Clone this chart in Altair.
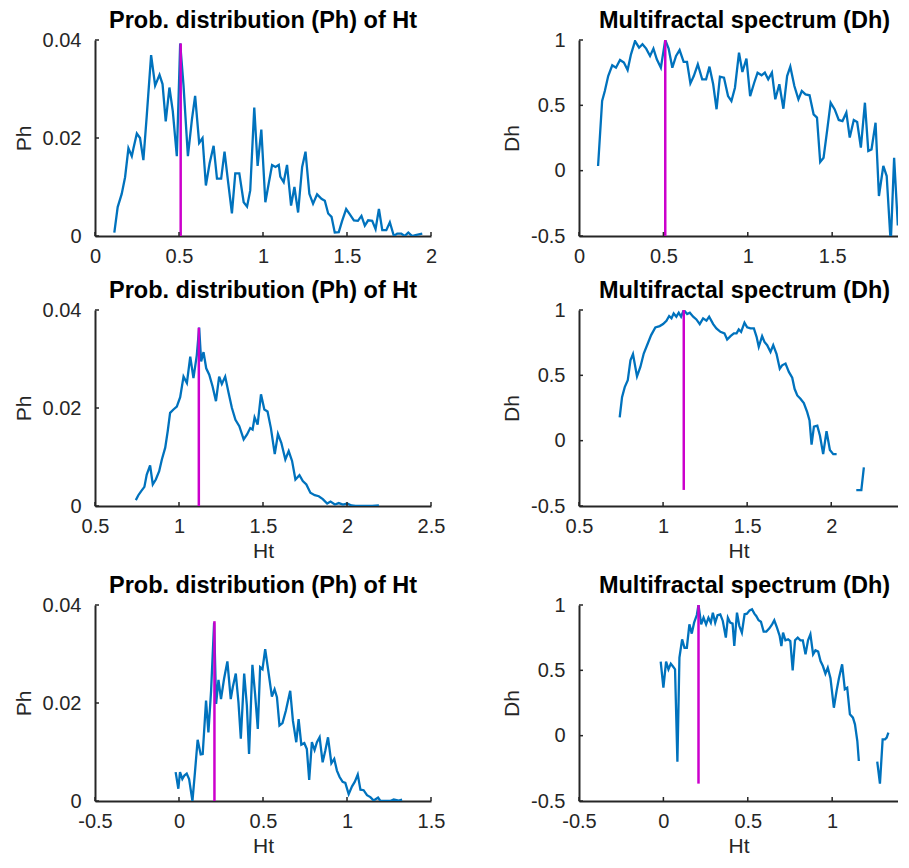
import altair as alt
import pandas as pd

BLUE = "#0072BD"
MAG = "#CC00CC"
AXC = "#262626"
FONT = "Liberation Sans"

# ---------------- Row 1 ----------------
P1L_HT = [0.115, 0.135, 0.159, 0.179, 0.199, 0.219, 0.229, 0.249, 0.268, 0.288, 0.308, 0.334, 0.358,
          0.384, 0.402, 0.421, 0.443, 0.463, 0.487, 0.507, 0.527, 0.553, 0.577, 0.596, 0.620, 0.640,
          0.660, 0.682, 0.706, 0.726, 0.751, 0.771, 0.791, 0.815, 0.835, 0.859, 0.885, 0.905, 0.924,
          0.948, 0.968, 0.990, 1.014, 1.034, 1.054, 1.074, 1.094, 1.103, 1.123, 1.143, 1.167, 1.187,
          1.209, 1.233, 1.253, 1.276, 1.298, 1.322, 1.348, 1.368, 1.388, 1.408, 1.427, 1.451, 1.471,
          1.495, 1.515, 1.541, 1.565, 1.586, 1.606, 1.626, 1.650, 1.670, 1.690, 1.710, 1.734, 1.755,
          1.779, 1.799, 1.823, 1.843, 1.865, 1.888, 1.908, 1.948]
P1L_PH = [0.0007, 0.0059, 0.0086, 0.0120, 0.0179, 0.0163, 0.0179, 0.0209, 0.0200, 0.0155, 0.0245,
          0.0369, 0.0307, 0.0329, 0.0310, 0.0234, 0.0303, 0.0255, 0.0163, 0.0393, 0.0307, 0.0163,
          0.0238, 0.0286, 0.0190, 0.0200, 0.0103, 0.0148, 0.0184, 0.0117, 0.0117, 0.0172, 0.0114,
          0.0046, 0.0128, 0.0128, 0.0069, 0.0060, 0.0093, 0.0262, 0.0143, 0.0217, 0.0069, 0.0107,
          0.0145, 0.0141, 0.0145, 0.0121, 0.0110, 0.0145, 0.0062, 0.0100, 0.0048, 0.0141, 0.0172,
          0.0086, 0.0066, 0.0085, 0.0076, 0.0072, 0.0046, 0.0039, 0.0007, 0.0008, 0.0031, 0.0055,
          0.0045, 0.0032, 0.0031, 0.0041, 0.0021, 0.0032, 0.0031, 0.0014, 0.0055, 0.0012, 0.0012,
          0.0028, 0.0000, 0.0005, 0.0005, 0.0000, 0.0007, 0.0000, 0.0002, 0.0005]

P1R_HT = [0.113, 0.137, 0.153, 0.173, 0.197, 0.219, 0.243, 0.266, 0.288, 0.308, 0.332, 0.356, 0.376,
          0.398, 0.421, 0.441, 0.461, 0.485, 0.511, 0.531, 0.553, 0.575, 0.596, 0.620, 0.640, 0.660,
          0.680, 0.704, 0.730, 0.753, 0.773, 0.795, 0.815, 0.835, 0.859, 0.883, 0.903, 0.924, 0.948,
          0.968, 0.992, 1.014, 1.038, 1.058, 1.082, 1.101, 1.121, 1.143, 1.163, 1.187, 1.211, 1.233,
          1.252, 1.276, 1.300, 1.320, 1.342, 1.366, 1.390, 1.410, 1.429, 1.449, 1.471, 1.491, 1.515,
          1.539, 1.561, 1.584, 1.604, 1.628, 1.648, 1.670, 1.694, 1.714, 1.733, 1.757, 1.777, 1.803,
          1.823, 1.847, 1.867, 1.889]
P1R_DH = [0.036, 0.533, 0.610, 0.724, 0.806, 0.788, 0.847, 0.827, 0.770, 0.890, 0.992, 0.941, 0.967,
          0.934, 0.878, 0.934, 0.852, 0.788, 1.000, 0.934, 0.788, 0.878, 0.923, 0.832, 0.832, 0.668,
          0.724, 0.814, 0.699, 0.699, 0.796, 0.661, 0.470, 0.719, 0.712, 0.571, 0.533, 0.635, 0.903,
          0.755, 0.857, 0.571, 0.673, 0.750, 0.730, 0.750, 0.699, 0.750, 0.546, 0.661, 0.474, 0.724,
          0.796, 0.648, 0.546, 0.610, 0.584, 0.577, 0.431, 0.406, 0.066, 0.099, 0.316, 0.520, 0.469,
          0.388, 0.380, 0.444, 0.253, 0.388, 0.372, 0.176, 0.520, 0.151, 0.163, 0.367, -0.194, 0.036,
          -0.041, -0.560, 0.099, -0.420]

# ---------------- Row 2 ----------------
P2L_HT = [0.743, 0.758, 0.774, 0.794, 0.808, 0.828, 0.844, 0.862, 0.882, 0.898, 0.918, 0.933, 0.947,
          0.967, 0.987, 1.007, 1.027, 1.047, 1.067, 1.086, 1.106, 1.120, 1.132, 1.146, 1.162, 1.180,
          1.200, 1.220, 1.239, 1.255, 1.275, 1.295, 1.315, 1.336, 1.359, 1.385, 1.405, 1.424, 1.438,
          1.450, 1.468, 1.488, 1.508, 1.527, 1.547, 1.570, 1.589, 1.609, 1.633, 1.653, 1.673, 1.693,
          1.717, 1.737, 1.758, 1.782, 1.808, 1.832, 1.856, 1.882, 1.902, 1.928, 1.951, 1.976, 2.001,
          2.027, 2.051, 2.071, 2.110, 2.150, 2.190]
P2L_PH = [0.0012, 0.0022, 0.0030, 0.0039, 0.0064, 0.0083, 0.0044, 0.0054, 0.0071, 0.0095, 0.0119,
          0.0153, 0.0190, 0.0197, 0.0203, 0.0222, 0.0264, 0.0251, 0.0305, 0.0261, 0.0308, 0.0364,
          0.0295, 0.0314, 0.0281, 0.0268, 0.0244, 0.0214, 0.0264, 0.0249, 0.0264, 0.0231, 0.0200,
          0.0176, 0.0163, 0.0136, 0.0146, 0.0159, 0.0156, 0.0181, 0.0166, 0.0228, 0.0197, 0.0193,
          0.0159, 0.0106, 0.0147, 0.0129, 0.0095, 0.0112, 0.0092, 0.0054, 0.0063, 0.0051, 0.0044,
          0.0027, 0.0022, 0.0020, 0.0014, 0.0005, 0.0009, 0.0003, 0.0006, 0.0003, 0.0005, 0.0001,
          0.0000, 0.0000, 0.0000, 0.0000, 0.0001]

P2R_HT = [0.742, 0.756, 0.772, 0.790, 0.806, 0.821, 0.845, 0.865, 0.885, 0.909, 0.929, 0.954, 0.980,
          1.000, 1.020, 1.036, 1.050, 1.063, 1.079, 1.093, 1.107, 1.123, 1.143, 1.159, 1.179, 1.198,
          1.218, 1.238, 1.258, 1.274, 1.298, 1.317, 1.341, 1.365, 1.381, 1.401, 1.421, 1.437, 1.450,
          1.464, 1.484, 1.500, 1.520, 1.540, 1.556, 1.569, 1.589, 1.603, 1.619, 1.639, 1.655, 1.675,
          1.694, 1.708, 1.728, 1.748, 1.768, 1.782, 1.798, 1.817, 1.837, 1.857, 1.871, 1.883, 1.897,
          1.917, 1.933, 1.952, 1.972, 1.992, 2.012, 2.032, 2.090, 2.149, 2.179, 2.194]
P2R_DH = [0.179, 0.333, 0.410, 0.462, 0.615, 0.662, 0.492, 0.564, 0.667, 0.744, 0.808, 0.867, 0.877,
          0.892, 0.918, 0.954, 0.936, 0.974, 0.949, 0.979, 0.949, 1.000, 0.969, 0.979, 0.949, 0.928,
          0.892, 0.936, 0.918, 0.949, 0.892, 0.859, 0.833, 0.821, 0.774, 0.800, 0.821, 0.821, 0.851,
          0.833, 0.903, 0.867, 0.859, 0.859, 0.795, 0.718, 0.800, 0.756, 0.731, 0.679, 0.731, 0.662,
          0.551, 0.577, 0.590, 0.526, 0.482, 0.397, 0.346, 0.321, 0.287, 0.218, 0.154, -0.031, 0.108,
          0.115, 0.038, -0.103, 0.072, -0.072, -0.103, -0.103, None, -0.379, -0.379, -0.205]

# ---------------- Row 3 ----------------
P3L_HT = [-0.020, -0.004, 0.006, 0.020, 0.032, 0.046, 0.060, 0.080, 0.095, 0.111, 0.129, 0.141,
          0.161, 0.175, 0.191, 0.209, 0.221, 0.235, 0.250, 0.268, 0.288, 0.308, 0.320, 0.338, 0.354,
          0.368, 0.388, 0.404, 0.417, 0.437, 0.453, 0.469, 0.483, 0.497, 0.513, 0.533, 0.553, 0.569,
          0.583, 0.598, 0.616, 0.636, 0.662, 0.678, 0.698, 0.712, 0.728, 0.746, 0.761, 0.775, 0.791,
          0.807, 0.821, 0.837, 0.855, 0.871, 0.887, 0.907, 0.924, 0.940, 0.956, 0.974, 0.990, 1.010,
          1.030, 1.046, 1.064, 1.080, 1.099, 1.119, 1.139, 1.159, 1.185, 1.199, 1.229, 1.258, 1.278,
          1.308, 1.328]
P3L_PH = [0.0059, 0.0025, 0.0059, 0.0045, 0.0052, 0.0056, 0.0045, 0.0000, 0.0059, 0.0125, 0.0095,
          0.0096, 0.0205, 0.0140, 0.0225, 0.0364, 0.0198, 0.0247, 0.0208, 0.0249, 0.0285, 0.0208,
          0.0232, 0.0260, 0.0201, 0.0127, 0.0260, 0.0195, 0.0096, 0.0278, 0.0218, 0.0147, 0.0273,
          0.0269, 0.0310, 0.0262, 0.0213, 0.0228, 0.0212, 0.0154, 0.0159, 0.0184, 0.0225, 0.0164,
          0.0120, 0.0167, 0.0115, 0.0118, 0.0106, 0.0043, 0.0120, 0.0104, 0.0120, 0.0130, 0.0079,
          0.0103, 0.0130, 0.0077, 0.0086, 0.0062, 0.0049, 0.0039, 0.0037, 0.0014, 0.0030, 0.0039,
          0.0054, 0.0023, 0.0022, 0.0012, 0.0008, 0.0001, 0.0007, 0.0000, 0.0000, 0.0000, 0.0003,
          0.0001, 0.0003]

P3R_HT = [-0.016, 0.000, 0.016, 0.030, 0.044, 0.059, 0.069, 0.083, 0.095, 0.111, 0.125, 0.139,
          0.154, 0.168, 0.182, 0.198, 0.208, 0.224, 0.238, 0.253, 0.267, 0.281, 0.293, 0.307, 0.321,
          0.337, 0.352, 0.370, 0.382, 0.396, 0.410, 0.420, 0.436, 0.450, 0.465, 0.481, 0.495, 0.511,
          0.525, 0.539, 0.550, 0.564, 0.578, 0.594, 0.610, 0.628, 0.644, 0.657, 0.673, 0.689, 0.699,
          0.709, 0.723, 0.739, 0.752, 0.766, 0.780, 0.796, 0.812, 0.826, 0.842, 0.857, 0.871, 0.887,
          0.901, 0.917, 0.931, 0.945, 0.960, 0.974, 0.990, 1.010, 1.026, 1.040, 1.059, 1.075, 1.089,
          1.105, 1.123, 1.135, 1.149, 1.158, 1.210, 1.267, 1.283, 1.299, 1.313, 1.323, 1.333]
P3R_DH = [0.566, 0.367, 0.566, 0.508, 0.551, 0.526, 0.508, -0.199, 0.597, 0.737, 0.673, 0.673,
          0.852, 0.781, 0.865, 0.923, 1.000, 0.852, 0.903, 0.852, 0.903, 0.865, 0.941, 0.865, 0.923,
          0.929, 0.878, 0.750, 0.903, 0.865, 0.858, 0.686, 0.941, 0.839, 0.788, 0.929, 0.934, 0.959,
          0.967, 0.934, 0.916, 0.883, 0.872, 0.796, 0.796, 0.821, 0.852, 0.883, 0.827, 0.763, 0.686,
          0.788, 0.730, 0.737, 0.724, 0.500, 0.730, 0.750, 0.730, 0.730, 0.622, 0.730, 0.776, 0.622,
          0.653, 0.643, 0.571, 0.533, 0.474, 0.520, 0.439, 0.214, 0.342, 0.439, 0.546, 0.355, 0.367,
          0.163, 0.138, 0.087, -0.041, -0.194, None, -0.199, -0.367, -0.028, -0.028, -0.015, 0.023]

# Vertical markers (position of max, span)
VLINE_X = [0.51, 0.511, 1.118, 1.123, 0.211, 0.208]
VLINE_Y0 = [0.0, -0.5, 0.0, -0.377, 0.0, -0.367]
VLINE_Y1 = [0.0393, 1.0, 0.0364, 1.0, 0.0367, 1.0]

XDOMS = [[0, 2], [0, 1.89], [0.5, 2.5], [0.5, 2.397], [-0.5, 1.5], [-0.5, 1.39]]
XTICKS = [[0, 0.5, 1, 1.5, 2], [0, 0.5, 1, 1.5], [0.5, 1, 1.5, 2, 2.5], [0.5, 1, 1.5, 2],
          [-0.5, 0, 0.5, 1, 1.5], [-0.5, 0, 0.5, 1]]
PH_TICKS = [0, 0.02, 0.04]
DH_TICKS = [-0.5, 0, 0.5, 1]

TITLE_L = "Prob. distribution (Ph) of Ht"
TITLE_R = "Multifractal spectrum (Dh)"

WL, WR, H = 336, 319, 196


def panel(xs, ys, i, left, xtitle):
    rows = []
    seg = 0
    for x, y in zip(xs, ys):
        if y is None:
            seg += 1
            continue
        rows.append({"x": x, "y": y, "seg": seg})
    df = pd.DataFrame(rows)
    w = WL if left else WR
    ydom = [0, 0.04] if left else [-0.5, 1]
    yticks = PH_TICKS if left else DH_TICKS
    xs_ = alt.Scale(domain=XDOMS[i], nice=False, zero=False)
    ys_ = alt.Scale(domain=ydom, nice=False, zero=False)
    xaxis = alt.Axis(values=XTICKS[i], title=xtitle, labelExpr="'' + datum.value")
    yaxis = alt.Axis(values=yticks, title="Ph" if left else "Dh", labelExpr="'' + datum.value")
    X = alt.X("x:Q", scale=xs_, axis=xaxis)
    Y = alt.Y("y:Q", scale=ys_, axis=yaxis)
    line = alt.Chart(df).mark_line(color=BLUE, strokeWidth=2.3, clip=True).encode(
        x=X, y=Y, detail="seg:N",
    )
    vdf = pd.DataFrame({"x": [VLINE_X[i]], "y": [VLINE_Y0[i]], "y2": [VLINE_Y1[i]]})
    vline = alt.Chart(vdf).mark_rule(color=MAG, strokeWidth=2.5).encode(x=X, y=Y, y2="y2:Q")
    xt = alt.Chart(pd.DataFrame({"x": XTICKS[i]})).mark_rule(color=AXC, strokeWidth=1.5).encode(
        x=X, y=alt.value(H), y2=alt.value(H - 4)
    )
    yt = alt.Chart(pd.DataFrame({"y": yticks})).mark_rule(color=AXC, strokeWidth=1.5).encode(
        y=Y, x=alt.value(0), x2=alt.value(4)
    )
    title = alt.TitleParams(TITLE_L if left else TITLE_R, dx=0 if left else 6, frame="group")
    return alt.layer(line, vline, xt, yt).properties(width=w, height=H, title=title)


panels = [
    panel(P1L_HT, P1L_PH, 0, True, None),
    panel(P1R_HT, P1R_DH, 1, False, None),
    panel(P2L_HT, P2L_PH, 2, True, "Ht"),
    panel(P2R_HT, P2R_DH, 3, False, "Ht"),
    panel(P3L_HT, P3L_PH, 4, True, "Ht"),
    panel(P3R_HT, P3R_DH, 5, False, "Ht"),
]

chart = alt.concat(*panels, columns=2, spacing={"row": 12, "column": 56}).properties(
    padding={"left": 5, "top": 0, "right": 0, "bottom": 0}
).configure_view(strokeOpacity=0).configure_axis(
    grid=False, ticks=False, domainColor=AXC, domainWidth=2,
    labelFont=FONT, labelFontSize=20, labelColor=AXC,
    labelFlush=False, labelOverlap=False,
    titleFont=FONT, titleFontSize=21, titleFontWeight="normal", titleColor=AXC,
).configure_axisX(labelPadding=10, titlePadding=4).configure_axisY(
    labelPadding=14, titlePadding=8
).configure_title(
    font=FONT, fontSize=23.5, fontWeight="bold", color="#000000", anchor="middle", offset=-2
)

chart.save("out.html", embed_options={"renderer": "svg", "actions": False})
